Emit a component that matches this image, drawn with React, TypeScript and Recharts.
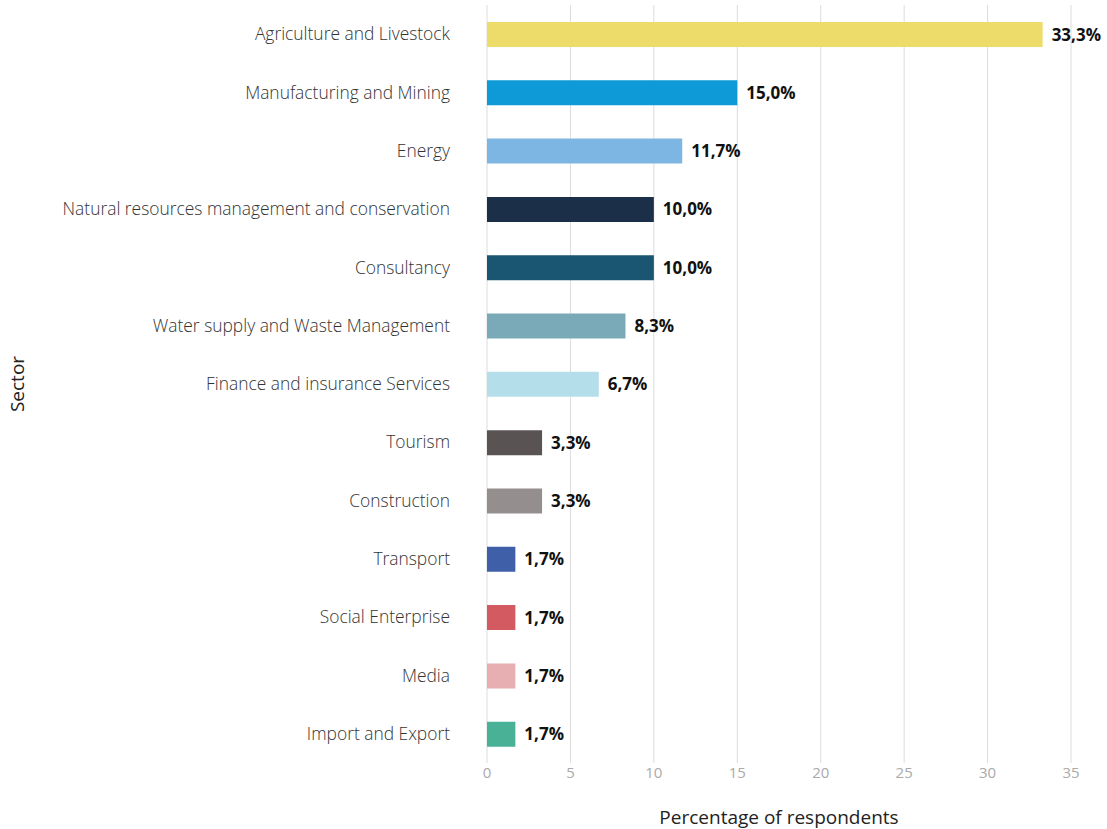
import { BarChart, Bar, XAxis, YAxis, CartesianGrid, Cell, LabelList } from "recharts";

const sectors = [
  "Agriculture and Livestock",
  "Manufacturing and Mining",
  "Energy",
  "Natural resources management and conservation",
  "Consultancy",
  "Water supply and Waste Management",
  "Finance and insurance Services",
  "Tourism",
  "Construction",
  "Transport",
  "Social Enterprise",
  "Media",
  "Import and Export",
];

const shares = [33.3, 15.0, 11.7, 10.0, 10.0, 8.3, 6.7, 3.3, 3.3, 1.7, 1.7, 1.7, 1.7];

const colors = [
  "#EDDC6A",
  "#0E9AD7",
  "#7DB5E3",
  "#1B3048",
  "#1A5571",
  "#7AAAB8",
  "#B4DEE9",
  "#595353",
  "#948F8E",
  "#3F5FA8",
  "#D45A61",
  "#E8AFB2",
  "#49B196",
];

const xTicks = [0, 5, 10, 15, 20, 25, 30, 35];

const data = sectors.map((sector, i) => ({ sector, value: shares[i] }));

const font = "'Open Sans', 'Noto Sans', sans-serif";

// rotated y-axis title, centred on the axis box
const SectorTitle = (props: any) => {
  const vb = props.viewBox || {};
  const x = (vb.x ?? 0) + 24;
  const y = (vb.y ?? 0) + (vb.height ?? 0) / 2;
  return (
    <text
      x={x}
      y={y}
      transform={`rotate(-90, ${x}, ${y})`}
      textAnchor="middle"
      fill="#222"
      fontSize={19}
      fontFamily={font}
    >
      Sector
    </text>
  );
};

export default function App() {
  return (
    <div style={{ position: "absolute", left: 0, top: 0, fontFamily: font }}>
      <BarChart
        width={1107}
        height={829}
        data={data}
        layout="vertical"
        margin={{ top: 5, right: 36, bottom: 36, left: 0 }}
        barCategoryGap={0}
      >
        <CartesianGrid horizontal={false} stroke="#dcdcdc" />
        <XAxis
          type="number"
          domain={[0, 35]}
          ticks={xTicks}
          axisLine={false}
          tickLine={false}
          tickSize={2}
          tick={{ fill: "#aaaaaa", fontSize: 15, fontFamily: font }}
          height={30}
          label={{
            value: "Percentage of respondents",
            position: "insideBottom",
            offset: -31,
            fill: "#222",
            fontSize: 19,
            fontFamily: font,
          }}
        />
        <YAxis
          type="category"
          dataKey="sector"
          width={487}
          axisLine={false}
          tickLine={false}
          tickMargin={31}
          interval={0}
          tick={{ fill: "#333", fontSize: 17.4, fontFamily: font, fontWeight: 300 }}
          label={<SectorTitle />}
        />
        <Bar dataKey="value" barSize={25} isAnimationActive={false}>
          {data.map((d, i) => (
            <Cell key={d.sector} fill={colors[i]} />
          ))}
          <LabelList
            dataKey="value"
            position="right"
            offset={9}
            formatter={(v: number) => `${v.toFixed(1).replace(".", ",")}%`}
            style={{ fill: "#111", fontSize: 17, fontWeight: 700, fontFamily: font }}
          />
        </Bar>
      </BarChart>
    </div>
  );
}
